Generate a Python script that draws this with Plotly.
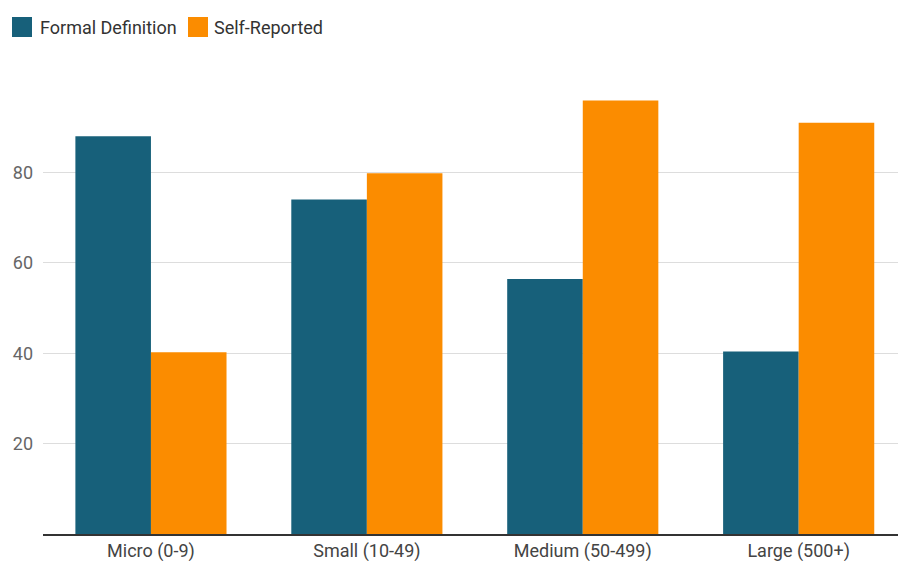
import plotly.graph_objects as go

# Company size groups and share (%) under each classification
categories = ["Micro (0-9)", "Small (10-49)", "Medium (50-499)", "Large (500+)"]
formal_definition = [88.0, 74.0, 56.4, 40.4]
self_reported = [40.2, 79.8, 95.9, 91.0]
series_names = ["Formal Definition", "Self-Reported"]
y_ticks = [20, 40, 60, 80]

TEAL = "#17607a"
ORANGE = "#fb8c00"
FONT = "Roboto, Noto Sans, sans-serif"

fig = go.Figure()
fig.add_trace(go.Bar(x=categories, y=formal_definition, name=series_names[0],
                     marker=dict(color=TEAL, line=dict(width=0))))
fig.add_trace(go.Bar(x=categories, y=self_reported, name=series_names[1],
                     marker=dict(color=ORANGE, line=dict(width=0))))

W, H = 898, 561
ml, mr, mt, mb = 43, 0, 82, 27
pw, ph = W - ml - mr, H - mt - mb

def px_x(p):
    return (p - ml) / pw

def px_y(p):
    return (H - mb - p) / ph

# Hand-built legend with larger swatches
legend_items = [(12, 38, series_names[0], TEAL), (188, 212, series_names[1], ORANGE)]
shapes = []
annotations = []
for sx, tx, label, col in legend_items:
    shapes.append(dict(type="rect", xref="paper", yref="paper",
                       x0=px_x(sx), x1=px_x(sx + 20), y0=px_y(37), y1=px_y(17),
                       fillcolor=col, line=dict(width=0)))
    annotations.append(dict(xref="paper", yref="paper", x=px_x(tx), y=px_y(27),
                            xanchor="left", yanchor="middle", showarrow=False,
                            text=label, font=dict(family=FONT, size=18, color="#333333")))

fig.update_layout(
    width=W, height=H,
    margin=dict(l=ml, r=mr, t=mt, b=mb),
    paper_bgcolor="white", plot_bgcolor="white",
    barmode="group", bargap=0.30, bargroupgap=0,
    showlegend=False,
    font=dict(family=FONT),
    shapes=shapes, annotations=annotations,
    xaxis=dict(range=[-0.5, 3.46], showgrid=False, showline=True,
               linecolor="#333333", linewidth=1.5, ticks="",
               tickfont=dict(size=18, color="#444444")),
    yaxis=dict(range=[0, 100], tickvals=y_ticks, showgrid=True,
               gridcolor="#dddddd", gridwidth=1, zeroline=False,
               showline=False, ticks="", ticklabelstandoff=9,
               tickfont=dict(size=18, color="#666666")),
)

fig.write_html("out.html")
